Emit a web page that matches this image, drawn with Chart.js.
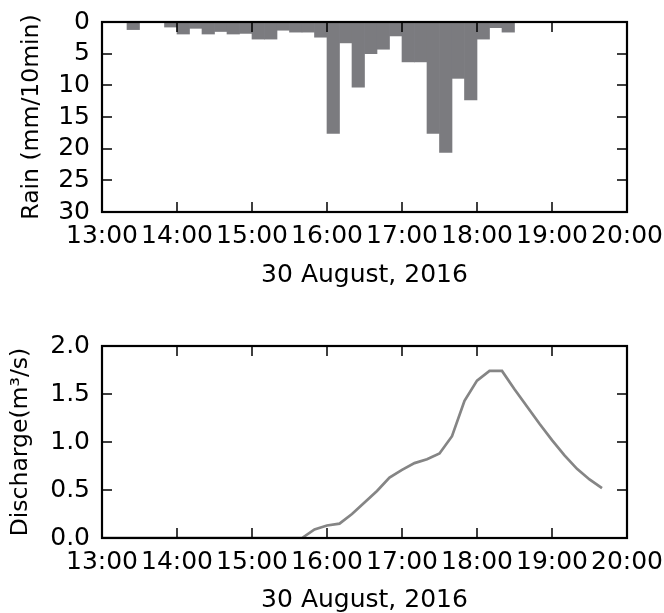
<!DOCTYPE html>
<html>
<head>
<meta charset="utf-8">
<script src="https://cdn.jsdelivr.net/npm/chart.js@4.4.1/dist/chart.umd.min.js"></script>
<style>
  html, body { margin: 0; padding: 0; background: #fff; }
  #wrap { position: relative; width: 664px; height: 613px; }
  canvas { position: absolute; left: 0; }
  #rainChart { top: 0; }
  #flowChart { top: 320px; }
</style>
</head>
<body>
<div id="wrap">
  <canvas id="rainChart" width="664" height="290"></canvas>
  <canvas id="flowChart" width="664" height="293"></canvas>
</div>
<script>
// rainfall per 10 min slot (slot start time)
const rainSlots = [
  '13:00','13:10','13:20','13:30','13:40','13:50',
  '14:00','14:10','14:20','14:30','14:40','14:50',
  '15:00','15:10','15:20','15:30','15:40','15:50',
  '16:00','16:10','16:20','16:30','16:40','16:50',
  '17:00','17:10','17:20','17:30','17:40','17:50',
  '18:00','18:10','18:20','18:30','18:40','18:50',
  '19:00','19:10','19:20','19:30','19:40','19:50'
];
const rainValues = [
  0, 0, 1.2, 0, 0, 0.8,
  1.9, 1.0, 1.9, 1.5, 1.9, 1.8,
  2.7, 2.7, 1.3, 1.6, 1.6, 2.4,
  17.6, 3.3, 10.3, 5.0, 4.3, 2.2,
  6.3, 6.3, 17.6, 20.6, 8.9, 12.3,
  2.7, 0.9, 1.6, 0, 0, 0,
  0, 0, 0, 0, 0, 0
];

// discharge
const flowTimes = [
  '13:00','15:30','15:40','15:50','16:00','16:10','16:20','16:30','16:40','16:50',
  '17:00','17:10','17:20','17:30','17:40','17:50',
  '18:00','18:10','18:20','18:30','18:40','18:50',
  '19:00','19:10','19:20','19:30','19:40'
];
const flowValues = [
  0, 0, 0, 0.09, 0.13, 0.15, 0.25, 0.37, 0.49, 0.63,
  0.71, 0.78, 0.82, 0.88, 1.06, 1.43,
  1.64, 1.74, 1.74, 1.55, 1.37, 1.19,
  1.02, 0.86, 0.72, 0.61, 0.52
];

const hourTicks = [13, 14, 15, 16, 17, 18, 19, 20];
const rainTicks = [0, 5, 10, 15, 20, 25, 30];
const flowTicks = [0, 0.5, 1.0, 1.5, 2.0];

const toHours = s => {
  const [h, m] = s.split(':').map(Number);
  return h + m / 60;
};

const FONT = { family: 'DejaVu Sans', size: 25 };
const YTITLE_FONT = { family: 'DejaVu Sans', size: 23.5 };
const TICK = 10;

// matplotlib style frame with inward ticks on all four sides
const frameTicks = {
  id: 'frameTicks',
  afterDatasetsDraw(chart) {
    const { ctx, chartArea: a, scales: { x, y } } = chart;
    ctx.save();
    ctx.strokeStyle = '#000';
    ctx.lineWidth = 1.5;
    ctx.beginPath();
    x.ticks.forEach(t => {
      const px = Math.round(x.getPixelForValue(t.value));
      if (px <= a.left + 2 || px >= a.right - 2) return;
      ctx.moveTo(px, a.bottom); ctx.lineTo(px, a.bottom - TICK);
      ctx.moveTo(px, a.top); ctx.lineTo(px, a.top + TICK);
    });
    y.ticks.forEach(t => {
      const py = Math.round(y.getPixelForValue(t.value));
      if (py <= a.top + 2 || py >= a.bottom - 2) return;
      ctx.moveTo(a.left, py); ctx.lineTo(a.left + TICK, py);
      ctx.moveTo(a.right, py); ctx.lineTo(a.right - TICK, py);
    });
    ctx.stroke();
    ctx.lineWidth = 2.2;
    ctx.strokeRect(a.left, a.top, a.right - a.left, a.bottom - a.top);
    ctx.restore();
  }
};

const xScale = (height, titlePad) => ({
  type: 'linear',
  min: 13,
  max: 20,
  offset: false,
  afterFit: s => {
    s.height = height;
    s.paddingLeft = 0;
    s.paddingRight = 0;
  },
  afterBuildTicks: s => { s.ticks = hourTicks.map(v => ({ value: v })); },
  grid: { display: false, drawTicks: false },
  border: { display: false },
  ticks: {
    autoSkip: false, maxRotation: 0, minRotation: 0, padding: 9,
    color: '#000', font: FONT,
    callback: v => v + ':00'
  },
  title: { display: true, text: '30 August, 2016', color: '#000', font: FONT, padding: { top: 0, bottom: titlePad } }
});

const yScale = (min, max, ticks, title, titlePad, fmt, reverse) => ({
  reverse,
  min,
  max,
  afterFit: s => {
    s.width = 102;
    s.paddingTop = 0;
    s.paddingBottom = 0;
  },
  afterBuildTicks: s => { s.ticks = ticks.map(v => ({ value: v })); },
  grid: { display: false, drawTicks: false },
  border: { display: false },
  ticks: { autoSkip: false, padding: 12, color: '#000', font: FONT, callback: fmt },
  title: { display: true, text: title, color: '#000', font: YTITLE_FONT, padding: { top: titlePad, bottom: 0 } }
});

new Chart(document.getElementById('rainChart'), {
  type: 'bar',
  data: {
    datasets: [{
      data: rainSlots.map((s, i) => ({ x: toHours(s) + 1 / 12, y: rainValues[i] })),
      backgroundColor: '#7b7b7f',
      borderWidth: 0,
      barPercentage: 1,
      categoryPercentage: 1
    }]
  },
  options: {
    responsive: false,
    animation: false,
    devicePixelRatio: 1,
    layout: { padding: { top: 22, right: 37, left: 0, bottom: 0 } },
    plugins: { legend: { display: false }, tooltip: { enabled: false } },
    scales: {
      x: xScale(78, 0),
      y: yScale(0, 30, rainTicks, 'Rain (mm/10min)', 18, v => String(v), true)
    }
  },
  plugins: [frameTicks]
});

new Chart(document.getElementById('flowChart'), {
  type: 'line',
  data: {
    datasets: [{
      data: flowTimes.map((s, i) => ({ x: toHours(s), y: flowValues[i] })),
      borderColor: '#858585',
      borderWidth: 2.7,
      pointRadius: 0,
      tension: 0,
      fill: false
    }]
  },
  options: {
    responsive: false,
    animation: false,
    devicePixelRatio: 1,
    layout: { padding: { top: 26, right: 37, left: 0, bottom: 0 } },
    plugins: { legend: { display: false }, tooltip: { enabled: false } },
    scales: {
      x: xScale(75, -2),
      y: yScale(0, 2, flowTicks, 'Discharge(m³/s)', 7, v => v.toFixed(1), false)
    }
  },
  plugins: [frameTicks]
});
</script>
</body>
</html>
